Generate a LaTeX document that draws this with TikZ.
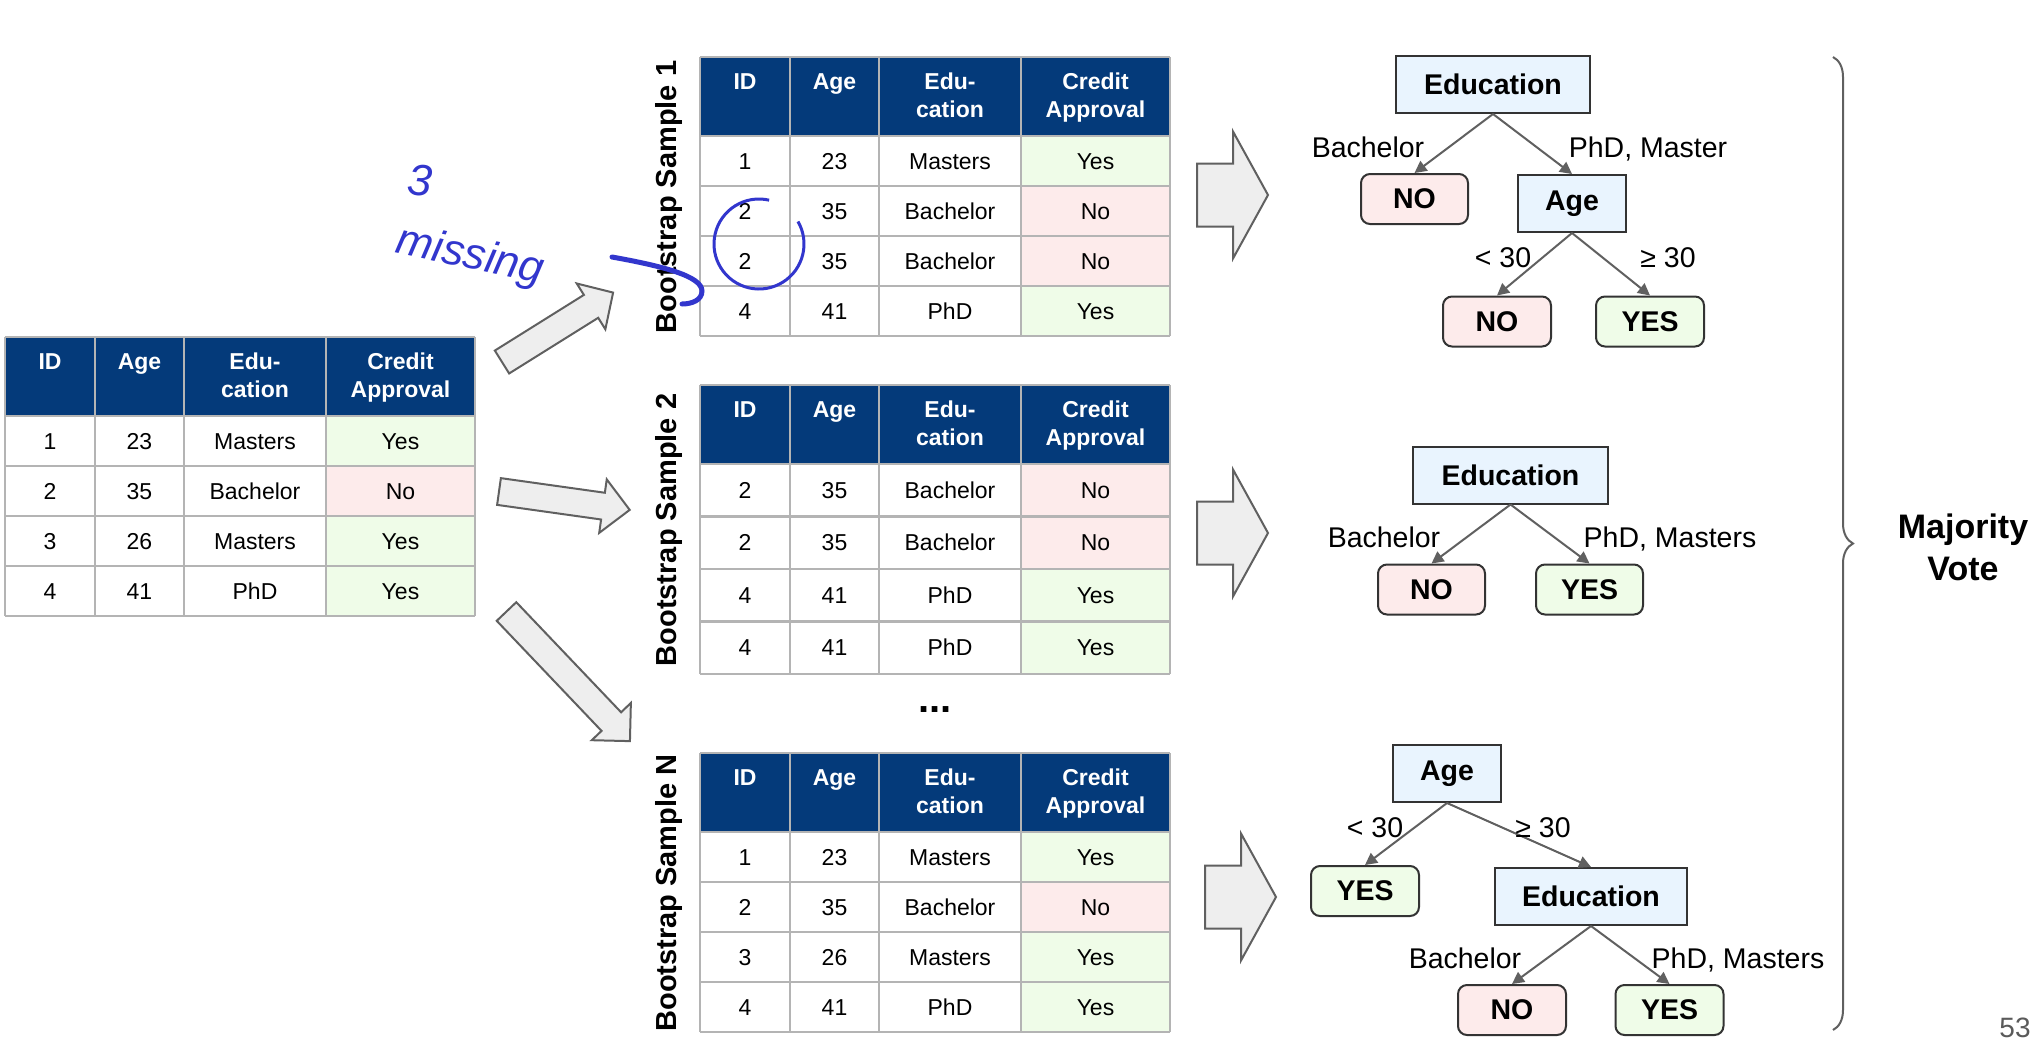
\documentclass[tikz,border=0pt]{standalone}
\usepackage{fontspec}
\setmainfont{Liberation Sans}
\usetikzlibrary{arrows.meta,decorations.pathreplacing}

\definecolor{headblue}{RGB}{4,58,122}
\definecolor{gridgray}{RGB}{180,180,180}
\definecolor{yesgreen}{RGB}{239,252,232}
\definecolor{nopink}{RGB}{253,235,235}
\definecolor{splitblue}{RGB}{233,244,254}
\definecolor{edgegray}{RGB}{96,96,96}
\definecolor{arrowfill}{RGB}{238,238,238}
\definecolor{inkblue}{RGB}{50,54,205}
\definecolor{pagegray}{RGB}{90,90,90}

\tikzset{
  Yes/.style={fill=yesgreen},
  No/.style={fill=nopink},
  grid/.style={draw=gridgray, line width=2.2pt},
  celltext/.style={anchor=base, inner sep=0pt, font=\fontsize{23}{28}\selectfont},
  headtext/.style={celltext, text=white, font=\bfseries\fontsize{23}{28}\selectfont},
  bslabel/.style={rotate=90, anchor=base, inner sep=0pt, font=\bfseries\fontsize{29}{34}\selectfont},
  blockarrow/.style={draw=edgegray, fill=arrowfill, line width=2pt, line join=miter},
  split/.style={draw=black!80, fill=splitblue, line width=2pt, minimum height=57pt,
    inner sep=0pt, font=\bfseries\fontsize{28.5}{34}\selectfont},
  leaf/.style={draw=black!80, line width=2pt, rounded corners=9pt, minimum width=107pt,
    minimum height=50pt, inner sep=0pt, font=\bfseries\fontsize{28.5}{34}\selectfont},
  leafno/.style={leaf, fill=nopink},
  leafyes/.style={leaf, fill=yesgreen},
  branch/.style={draw=edgegray, line width=2pt, -{Triangle[length=12pt,width=12pt]}},
  lbl/.style={anchor=base, inner sep=0pt, font=\fontsize{28.5}{34}\selectfont},
  ink/.style={text=inkblue, inner sep=0pt, font=\itshape\fontsize{44}{50}\selectfont},
}

% #1 name, #2 top left corner, #3 row height, #4 rows
\newcommand\datatable[4]{%
  \begin{scope}[shift={#2}]
    \fill[headblue] (0,0) rectangle (470,79);
    \foreach \id/\age/\edu/\ok [count=\r] in {#4} {
      \fill[\ok] (321,{79+(\r-1)*#3}) rectangle (470,{79+\r*#3});
      \node[celltext] (#1id\r) at (45,{79+(\r-0.5)*#3+8}) {\id};
      \node[celltext] (#1age\r) at (134.5,{79+(\r-0.5)*#3+8}) {\age};
      \node[celltext] (#1edu\r) at (250,{79+(\r-0.5)*#3+8}) {\edu};
      \node[celltext] (#1ok\r) at (395.5,{79+(\r-0.5)*#3+8}) {\ok};
    }
    \foreach \cx/\one/\two [count=\c] in {45/ID/, 134.5/Age/, 250/Edu-/cation, 395.5/Credit/Approval} {
      \node[headtext] (#1head\c) at (\cx,32) {\one};
      \node[headtext] (#1headb\c) at (\cx,60) {\two};
    }
    \foreach \gx in {0,90,179,321,470}
      \draw[grid] (\gx,0) -- (\gx,{79+4*#3});
    \foreach \r in {0,...,4}
      \draw[grid] (0,{79+\r*#3}) -- (470,{79+\r*#3});
    \draw[grid] (0,0) -- (470,0);
  \end{scope}}

% #1 tail, #2 angle, #3 length, #4 shaft half width, #5 head half width, #6 head length
\newcommand\blockarrow[6]{%
  \draw[blockarrow, shift={#1}, rotate=#2]
    (0,-#4) -- ({#3-#6},-#4) -- ({#3-#6},-#5) -- (#3,0)
    -- ({#3-#6},#5) -- ({#3-#6},#4) -- (0,#4) -- cycle;}

\begin{document}
\begin{tikzpicture}[x=1pt, y=-1pt]
\fill[white] (0,0) rectangle (2038,1042);
\useasboundingbox (0,0) rectangle (2038,1042);

% original data
\datatable{orig}{(5,337)}{50}{1/23/Masters/Yes, 2/35/Bachelor/No, 3/26/Masters/Yes, 4/41/PhD/Yes}

% bootstrap samples
\datatable{bsa}{(700,57)}{50}{1/23/Masters/Yes, 2/35/Bachelor/No, 2/35/Bachelor/No, 4/41/PhD/Yes}
\datatable{bsb}{(700,385)}{52.5}{2/35/Bachelor/No, 2/35/Bachelor/No, 4/41/PhD/Yes, 4/41/PhD/Yes}
\datatable{bsn}{(700,753)}{50}{1/23/Masters/Yes, 2/35/Bachelor/No, 3/26/Masters/Yes, 4/41/PhD/Yes}

\node[bslabel] (bsalabel) at (676,197) {Bootstrap Sample 1};
\node[bslabel] (bsblabel) at (676,530) {Bootstrap Sample 2};
\node[bslabel] (bsnlabel) at (676,893) {Bootstrap Sample N};
\node[anchor=base, inner sep=0pt, font=\bfseries\fontsize{40}{48}\selectfont] (dots) at (935,712) {...};

% block arrows
\blockarrow{(502,362)}{32}{131}{13.5}{27}{26}
\blockarrow{(499,491.5)}{-8}{132}{13.5}{27}{27}
\blockarrow{(506.5,611.5)}{-46.4}{179}{13.5}{27}{27}
\blockarrow{(1197,195)}{0}{71}{31.5}{63.5}{35}
\blockarrow{(1197,533)}{0}{71}{31.5}{63.5}{35}
\blockarrow{(1205,897)}{0}{71}{31.5}{63.5}{35}

% tree 1
\node[split, minimum width=194pt] (aedu) at (1493,84.5) {Education};
\node[leafno] (ano) at (1414.5,199) {NO};
\node[split, minimum width=108pt] (aage) at (1572,203.5) {Age};
\node[leafno, minimum width=108pt] (anob) at (1497,321.5) {NO};
\node[leafyes, minimum width=108pt] (ayes) at (1650,321.5) {YES};
\draw[branch] (aedu.south) -- (ano.north);
\draw[branch] (aedu.south) -- (aage.north);
\draw[branch] (aage.south) -- (anob.north);
\draw[branch] (aage.south) -- (ayes.north);
\node[lbl] (abach) at (1368,157) {Bachelor};
\node[lbl] (aphd) at (1648,157) {PhD, Master};
\node[lbl] (alt) at (1503,267) {< 30};
\node[lbl] (age) at (1668,267) {≥ 30};

% tree 2
\node[split, minimum width=195pt] (bedu) at (1510.5,475) {Education};
\node[leafno] (bno) at (1431.5,589.5) {NO};
\node[leafyes] (byes) at (1589.5,589.5) {YES};
\draw[branch] (bedu.south) -- (bno.north);
\draw[branch] (bedu.south) -- (byes.north);
\node[lbl] (bbach) at (1384,547) {Bachelor};
\node[lbl] (bphd) at (1670,547) {PhD, Masters};

% tree N
\node[split, minimum width=108pt] (nage) at (1447,773.5) {Age};
\node[leafyes, minimum width=108pt] (nyes) at (1365,891) {YES};
\node[split, minimum width=192pt] (nedu) at (1591,896.5) {Education};
\node[leafno, minimum width=108pt] (nno) at (1512,1010) {NO};
\node[leafyes, minimum width=108pt] (nyesb) at (1669.5,1010) {YES};
\draw[branch] (nage.south) -- (nyes.north);
\draw[branch] (nage.south) -- (nedu.north);
\draw[branch] (nedu.south) -- (nno.north);
\draw[branch] (nedu.south) -- (nyesb.north);
\node[lbl] (nlt) at (1375,837) {< 30};
\node[lbl] (nge) at (1543,837) {≥ 30};
\node[lbl] (nbach) at (1465,968) {Bachelor};
\node[lbl] (nphd) at (1738,968) {PhD, Masters};

% vote
\coordinate (bracetop) at (1833,57);
\coordinate (bracebot) at (1833,1030);
\draw[edgegray, line width=2pt, decorate, decoration={brace, amplitude=20pt}] (bracetop) -- (bracebot);
\node[align=center, inner sep=0pt, font=\bfseries\fontsize{34}{42}\selectfont] (vote) at (1963,547) {Majority\\Vote};
\node[anchor=base, inner sep=0pt, text=pagegray, font=\fontsize{28}{34}\selectfont] (page) at (2015,1037) {53};

% handwritten notes
\node[ink, rotate=-5] (three) at (420,180) {3};
\node[ink, rotate=-12] (missing) at (470,257) {missing};
\draw[inkblue, line width=3pt] (759,244) ++(-77:45) arc[start angle=-77, end angle=-390, radius=45];
\draw[inkblue, line width=5pt, line cap=round] (612,257) .. controls (662,266) and (702,276) .. (702,291)
  .. controls (702,300) and (692,304) .. (682,304);
\end{tikzpicture}
\end{document}
